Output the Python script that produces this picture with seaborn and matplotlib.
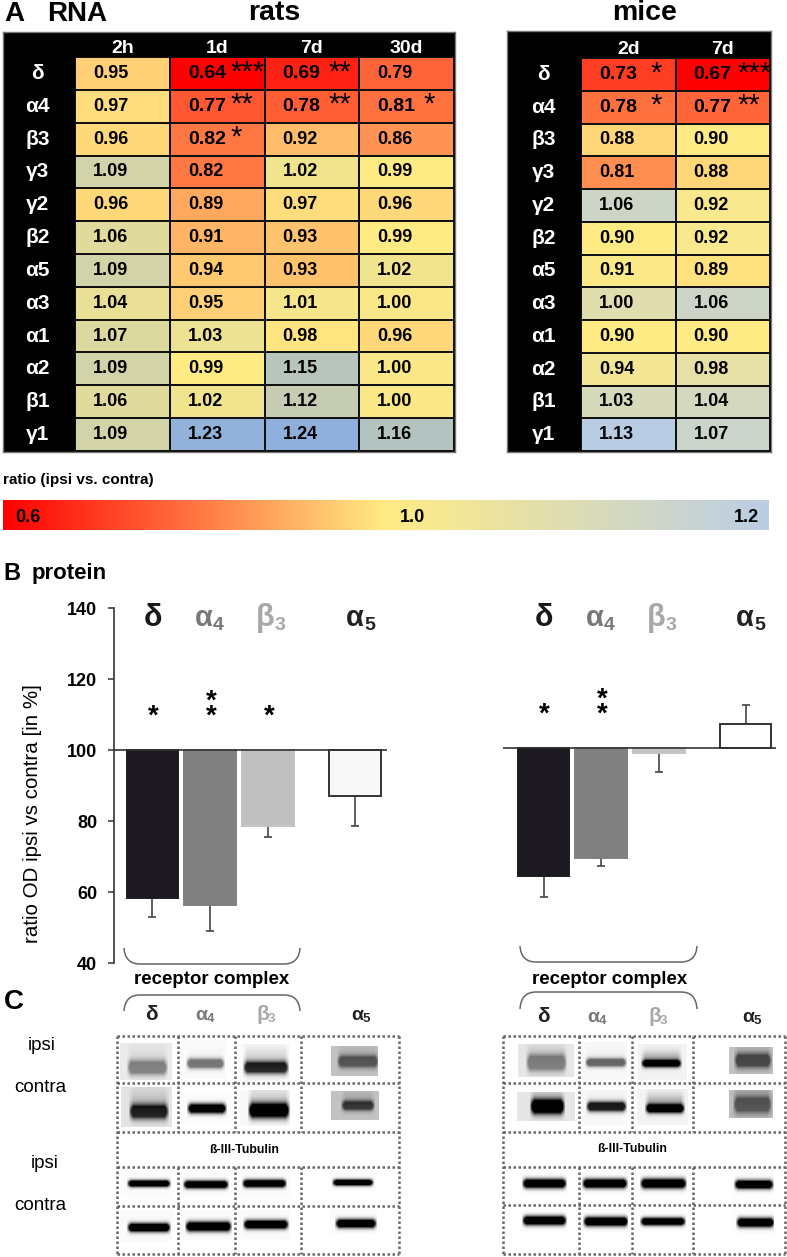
import numpy as np
import pandas as pd
import matplotlib
matplotlib.use("Agg")
import matplotlib.pyplot as plt
from matplotlib.cm import ScalarMappable
from matplotlib.colors import LinearSegmentedColormap, TwoSlopeNorm
from matplotlib.path import Path
from matplotlib.patches import PathPatch
import seaborn as sns

W, H = 787, 1257

# panel A
genes = ["δ", "α4", "β3", "γ3", "γ2", "β2", "α5", "α3", "α1", "α2", "β1", "γ1"]
rat_times = ["2h", "1d", "7d", "30d"]
rat_ratio = [[0.95, 0.64, 0.69, 0.79],
             [0.97, 0.77, 0.78, 0.81],
             [0.96, 0.82, 0.92, 0.86],
             [1.09, 0.82, 1.02, 0.99],
             [0.96, 0.89, 0.97, 0.96],
             [1.06, 0.91, 0.93, 0.99],
             [1.09, 0.94, 0.93, 1.02],
             [1.04, 0.95, 1.01, 1.00],
             [1.07, 1.03, 0.98, 0.96],
             [1.09, 0.99, 1.15, 1.00],
             [1.06, 1.02, 1.12, 1.00],
             [1.09, 1.23, 1.24, 1.16]]
rat_stars = {(0, 1): 3, (0, 2): 2, (1, 1): 2, (1, 2): 2, (1, 3): 1, (2, 1): 1}
mouse_times = ["2d", "7d"]
mouse_ratio = [[0.73, 0.67],
               [0.78, 0.77],
               [0.88, 0.90],
               [0.81, 0.88],
               [1.06, 0.92],
               [0.90, 0.92],
               [0.91, 0.89],
               [1.00, 1.06],
               [0.90, 0.90],
               [0.94, 0.98],
               [1.03, 1.04],
               [1.13, 1.07]]
mouse_stars = {(0, 0): 1, (0, 1): 3, (1, 0): 1, (1, 1): 2}

# panel B
subunits = ["δ", "α4", "β3", "α5"]
rat_od = [58.3, 56.3, 78.6, 87.0]
rat_err = [5.3, 7.3, 3.0, 8.4]
mouse_od = [64.0, 68.9, 98.6, 106.8]
mouse_err = [5.9, 2.0, 5.4, 5.4]
err_side = [-1, -1, -1, -1]
mouse_err_side = [-1, -1, -1, 1]
rat_marks = [1, 2, 1, 0]
mouse_marks = [1, 2, 0, 0]

SANS = ["Liberation Sans", "DejaVu Sans"]

sns.set_style("white")
plt.rcParams["font.family"] = SANS

fig = plt.figure(figsize=(W / 100, H / 100), dpi=100)


def box(x0, y0, x1, y1, **kw):
    return fig.add_axes([x0 / W, 1 - y1 / H, (x1 - x0) / W, (y1 - y0) / H], **kw)


ov = box(0, 0, W, H, zorder=5)
ov.patch.set_alpha(0)
ov.axis("off")
ov.set_xlim(0, W)
ov.set_ylim(H, 0)
ov.set_autoscale_on(False)

rat_cmap = LinearSegmentedColormap.from_list("r", ["#ff0000", "#ffeb84", "#8fb0dc"])
mouse_cmap = LinearSegmentedColormap.from_list("m", ["#ff0000", "#ffeb84", "#b8cce4"])
bar_cmap = LinearSegmentedColormap.from_list("b", ["#ff0000", "#ffeb84", "#bacde5"])


def table(values, times, stars, star_dx, cmap, norm, frame, cells):
    back = box(*frame, facecolor="black")
    back.set_xticks([])
    back.set_yticks([])
    for s in back.spines.values():
        s.set_color("#777777")
        s.set_linewidth(1)
    ax = box(*cells)
    labels = np.array([[f"{v:.2f}" for v in row] for row in values])
    sns.heatmap(pd.DataFrame(values, index=genes, columns=times), ax=ax, cmap=cmap, norm=norm,
                annot=labels, fmt="", cbar=False, linewidths=1.2, linecolor="#111111",
                annot_kws={"color": "black", "fontweight": "bold", "family": SANS, "fontsize": 13})
    ncol = len(times)
    for n, t in enumerate(ax.texts):
        r, c = divmod(n, ncol)
        t.set_ha("left")
        t.set_x(c + 0.19)
        if (r, c) in stars:
            t.set_fontsize(14)
            ax.text(c + star_dx[c], r + 0.46, "*" * stars[(r, c)], ha="left", va="center", color="black",
                    fontsize=21, family=SANS)
    ax.xaxis.tick_top()
    ax.tick_params(length=0)
    ax.tick_params(axis="x", pad=0)
    ax.tick_params(axis="y", pad=27)
    ax.set_xticklabels(times, color="white", fontweight="bold", family=SANS, fontsize=14)
    ax.set_yticklabels(genes, color="white", fontweight="bold", family=SANS, fontsize=15,
                       rotation=0, ha="center")
    return ax


table(rat_ratio, rat_times, rat_stars, [0, 0.64, 0.67, 0.68], rat_cmap,
      TwoSlopeNorm(vmin=0.64, vcenter=0.99, vmax=1.24), (3, 32, 455, 452), (75, 57, 454, 451))
table(mouse_ratio, mouse_times, mouse_stars, [0.74, 0.66], mouse_cmap,
      TwoSlopeNorm(vmin=0.67, vcenter=0.90, vmax=1.13), (507, 31, 771, 452), (581, 58, 770, 451))

# colour scale
cax = box(3, 500, 769, 530)
cb = fig.colorbar(ScalarMappable(TwoSlopeNorm(vmin=0.6, vcenter=1.0, vmax=1.2), bar_cmap), cax=cax,
                  orientation="horizontal")
cb.set_ticks([])
cb.outline.set_visible(False)
for frac, lab in [(0.033, "0.6"), (0.534, "1.0"), (0.971, "1.2")]:
    cax.text(frac, 0.42, lab, transform=cax.transAxes, ha="center", va="center",
             fontsize=13, fontweight="bold", family=SANS, color="black")


def bars(ax, od, err, side, marks, xpos, colors, edges, xlim, show_axis):
    df = pd.DataFrame({"x": xpos, "od": np.array(od) - 100, "name": subunits})
    sns.barplot(df, x="x", y="od", hue="name", palette=colors, dodge=False, native_scale=True,
                width=0.9, legend=False, ax=ax, saturation=1, zorder=2)
    for p, ec in zip(ax.patches, edges):
        p.set_edgecolor(ec)
        p.set_linewidth(1.4)
    lo = [e if s < 0 else 0 for e, s in zip(err, side)]
    hi = [e if s > 0 else 0 for e, s in zip(err, side)]
    ax.errorbar(xpos, df["od"], yerr=[lo, hi], fmt="none", ecolor="#444444", elinewidth=1.2,
                capsize=3, capthick=1.2, zorder=1)
    ax.axhline(0, color="#333333", lw=1.2, zorder=3)
    ax.set_xlim(*xlim)
    ax.set_ylim(-60, 40)
    ax.set_xlabel("")
    ax.set_ylabel("")
    ax.set_xticks([])
    for x, n in zip(xpos, marks):
        if n:
            ax.text(x + 0.02, 7.5, "\n".join("*" * n), ha="center", va="baseline", fontsize=20,
                    fontweight="bold", color="black", linespacing=0.44)
    sns.despine(ax=ax, bottom=True, left=not show_axis)
    if show_axis:
        ax.spines["left"].set_color("#333333")
        ax.spines["left"].set_linewidth(1.2)
        ax.set_yticks([-60, -40, -20, 0, 20, 40])
        ax.set_yticklabels([40, 60, 80, 100, 120, 140], fontweight="bold", fontsize=13, color="black")
        ax.tick_params(axis="y", left=True, length=4, width=1.1, color="#333333", pad=8)
    else:
        ax.set_yticks([])
    ax.patch.set_alpha(0)


positions = [0, 1, 2, 3.51]
bars(box(113.7, 608, 387, 963), rat_od, rat_err, err_side, rat_marks, positions,
     ["#1c1a20", "#808080", "#c0c0c0", "#f8f8f8"], ["#1c1a20", "#808080", "#c4c4c4", "#333333"],
     (-0.672, 4.064), True)
bars(box(503, 606, 776, 961), mouse_od, mouse_err, mouse_err_side, mouse_marks, positions,
     ["#1c1a20", "#808080", "#c4c4c4", "#ffffff"], ["#1c1a20", "#808080", "#c4c4c4", "#333333"],
     (-0.704, 4.04), False)


def put(x, y, s, size, weight="normal", color="black", ha="center", va="center", family=SANS, rot=0):
    ov.text(x, y, s, fontsize=size, fontweight=weight, color=color, ha=ha, va=va, family=family, rotation=rot)


def greek(x, y, base, sub, size, sub_size, color, sub_dx, sub_dy):
    put(x, y, base, size, "bold", color, ha="left")
    if sub:
        put(x + sub_dx, y + sub_dy, sub, sub_size, "bold", color, ha="left")


# headings
put(4, 14, "A", 20, "bold", ha="left")
put(47, 14, "RNA", 20, "bold", ha="left")
put(274, 13, "rats", 20.5, "bold")
put(645, 13, "mice", 20.5, "bold")
put(3, 480, "ratio (ipsi vs. contra)", 11, "bold", ha="left")
put(3, 573, "B", 17, "bold", ha="left")
put(32, 573, "protein", 16, "bold", ha="left")
put(4, 1002, "C", 20, "bold", ha="left")
put(33, 814, "ratio OD ipsi vs contra [in %]", 14.8, rot=90)

# subunit headers of panel B and C
for y, (a, b, c, d) in [(618, (144, 195, 256, 346)), (618, (535, 586, 647, 736))]:
    greek(a, y, "δ", "", 22, 0, "#1a1a1a", 0, 0)
    greek(b, y, "α", "4", 21, 14, "#777777", 18, 8)
    greek(c, y, "β", "3", 22, 14, "#a8a8a8", 19, 8)
    greek(d, y, "α", "5", 21, 14, "#222222", 18, 8)
for y, (a, b, c, d) in [(1015, (145, 195, 256, 351)), (1017, (537, 587, 648, 742))]:
    greek(a, y, "δ", "", 15, 0, "#222222", 0, 0)
    greek(b, y, "α", "4", 14, 9.5, "#777777", 12, 4)
    greek(c, y, "β", "3", 15, 9.5, "#a8a8a8", 12, 4)
    greek(d, y, "α", "5", 14, 9.5, "#222222", 12, 4)

put(212, 979, "receptor complex", 13.4, "bold")
put(610, 979, "receptor complex", 13.4, "bold")
put(244, 1150, "ß-III-Tubulin", 8.8, "bold")
put(632, 1149, "ß-III-Tubulin", 8.8, "bold")
for y, s, x in [(1045, "ipsi", 42), (1088, "contra", 40), (1164, "ipsi", 45), (1206, "contra", 40)]:
    put(x, y, s, 13.5)


def bracket(x0, x1, y_end, y_line):
    r = 16
    verts = [(x0, y_end), (x0 + 1, y_line), (x0 + r, y_line), (x1 - r, y_line), (x1 - 1, y_line), (x1, y_end)]
    codes = [Path.MOVETO, Path.CURVE3, Path.CURVE3, Path.LINETO, Path.CURVE3, Path.CURVE3]
    ov.add_patch(PathPatch(Path(verts, codes), fc="none", ec="#666666", lw=1.1))


bracket(124, 300, 948, 964)
bracket(520, 697, 946, 962)
bracket(124, 300, 1011, 995)
bracket(520, 697, 1009, 992)


def grid(xs, ys):
    kw = dict(color="#666666", lw=1.8, ls=(0, (1, 1)))
    for y in ys:
        ov.plot([xs[0], xs[-1]], [y, y], **kw)
    ov.plot([xs[0], xs[0]], [ys[0], ys[-1]], **kw)
    ov.plot([xs[-1], xs[-1]], [ys[0], ys[-1]], **kw)
    for x in xs[1:-1]:
        ov.plot([x, x], [ys[0], ys[2]], **kw)
        ov.plot([x, x], [ys[3], ys[5]], **kw)


grid([117, 178, 235, 301, 399], [1036, 1083, 1132, 1167, 1206, 1254])
grid([503, 579, 632, 693, 785], [1036, 1083, 1132, 1167, 1205, 1254])


def blot(x0, x1, y0, y1, bx0, bx1, by, thick, dark, bg, haze=0.0):
    xx, yy = np.meshgrid(np.arange(x0, x1), np.arange(y0, y1))
    # soft ends and a saturated core, like an overexposed band
    edge = np.clip((xx - bx0 + 1) / 5, 0, 1) * np.clip((bx1 - xx + 1) / 5, 0, 1)
    band = np.clip(1.7 * np.exp(-((yy - by) / (thick * 1.15)) ** 2) * edge, 0, 1)
    cloud = np.exp(-((yy - by + thick * 1.6) / (thick * 2.4)) ** 2) * edge
    img = np.clip(bg - dark * band - haze * cloud, 0, 1)
    ov.imshow(img, cmap="gray", vmin=0, vmax=1, extent=(x0, x1, y1, y0), aspect="auto", zorder=0,
              interpolation="bilinear")


# x0, x1, y0, y1, band left, band right, band y, thickness, darkness, background, haze
blots = [
    (120, 172, 1043, 1080, 127, 167, 1067, 6, 0.38, 0.92, 0.05), (180, 225, 1040, 1078, 186, 224, 1063, 4, 0.50, 0.98, 0.02),
    (240, 290, 1044, 1082, 243, 288, 1067, 5, 0.75, 0.98, 0.15), (331, 378, 1046, 1076, 337, 378, 1061, 5, 0.40, 0.76, 0.05),
    (121, 172, 1087, 1127, 129, 168, 1111, 6, 0.70, 0.89, 0.12), (180, 232, 1090, 1125, 187, 226, 1108, 4, 0.97, 0.985, 0.0),
    (240, 290, 1090, 1126, 248, 289, 1110, 6, 1.0, 0.97, 0.15), (331, 379, 1091, 1120, 341, 374, 1105, 4, 0.50, 0.76, 0.08),
    (120, 173, 1170, 1198, 127, 170, 1183, 2.8, 1.0, 0.985, 0.0), (180, 232, 1170, 1197, 183, 228, 1184, 3.2, 1.0, 0.985, 0.0),
    (238, 290, 1170, 1198, 242, 286, 1183, 3.2, 1.0, 0.985, 0.0), (330, 376, 1170, 1191, 332, 373, 1182, 2.6, 1.0, 0.985, 0.0),
    (120, 173, 1210, 1241, 127, 170, 1227, 3.6, 1.0, 0.98, 0.0), (180, 232, 1210, 1240, 185, 231, 1226, 4, 1.0, 0.98, 0.0),
    (238, 290, 1210, 1240, 243, 288, 1224, 3.6, 1.0, 0.98, 0.0), (330, 377, 1208, 1234, 335, 376, 1223, 3.6, 1.0, 0.985, 0.0),
    (518, 574, 1044, 1077, 526, 566, 1062, 7, 0.38, 0.90, 0.05), (581, 627, 1042, 1080, 585, 626, 1062, 3.4, 0.55, 0.97, 0.03),
    (638, 687, 1044, 1080, 641, 681, 1063, 3, 0.85, 0.95, 0.28), (729, 773, 1047, 1074, 734, 771, 1060, 6, 0.45, 0.76, 0.05),
    (517, 575, 1092, 1121, 530, 564, 1106, 6, 1.0, 0.90, 0.1), (581, 627, 1090, 1125, 586, 626, 1106, 4, 0.85, 0.97, 0.03),
    (637, 688, 1089, 1125, 645, 684, 1108, 3.5, 0.95, 0.95, 0.28), (729, 773, 1090, 1118, 733, 771, 1104, 7, 0.38, 0.74, 0.05),
    (519, 568, 1171, 1196, 522, 566, 1183, 3.8, 1.0, 0.99, 0.0), (581, 628, 1171, 1196, 582, 627, 1183, 3.8, 1.0, 0.99, 0.0),
    (638, 687, 1171, 1196, 640, 686, 1183, 4, 1.0, 0.99, 0.0), (732, 774, 1171, 1196, 734, 773, 1184, 3.6, 1.0, 0.99, 0.0),
    (519, 568, 1208, 1232, 522, 566, 1220, 3.8, 1.0, 0.99, 0.0), (581, 628, 1208, 1232, 583, 628, 1221, 3.8, 1.0, 0.99, 0.0),
    (638, 687, 1208, 1232, 640, 685, 1221, 3.2, 1.0, 0.99, 0.0), (732, 774, 1208, 1234, 736, 774, 1222, 3.8, 1.0, 0.99, 0.0),
]
for b in blots:
    blot(*b)
ov.set_xlim(0, W)
ov.set_ylim(H, 0)

fig.savefig("out.png", dpi=100)
